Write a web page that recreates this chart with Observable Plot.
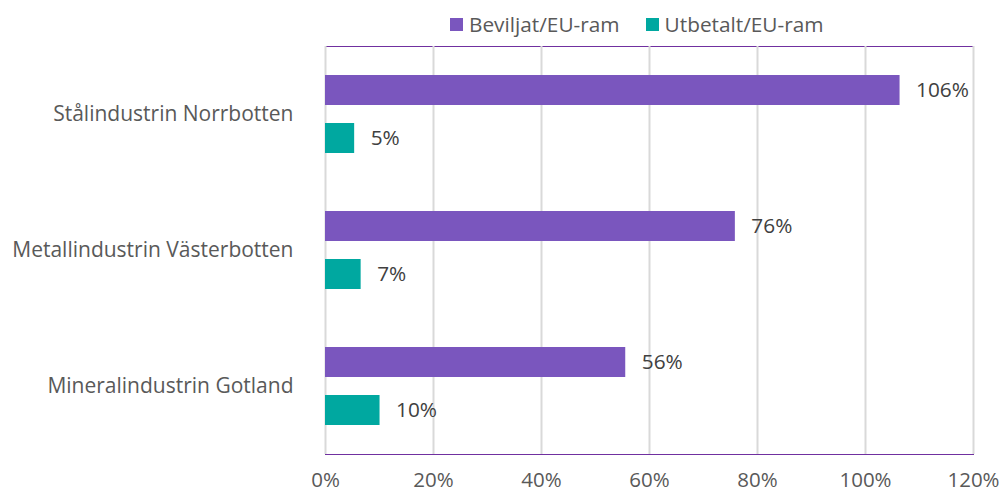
<!DOCTYPE html>
<html><head><meta charset="utf-8">
<script src="https://cdn.jsdelivr.net/npm/d3@7"></script>
<script src="https://cdn.jsdelivr.net/npm/@observablehq/plot@0.6"></script>
<style>
body{margin:0;background:#fff;font-family:"Open Sans", sans-serif;}
#legend{height:42px;display:flex;align-items:center;padding-left:450px;font-size:20.8px;color:#595959;box-sizing:border-box;padding-top:6px}
.item{display:flex;align-items:center;margin-right:26px}
.sw{width:13px;height:13px;margin-right:6px}
</style></head><body>
<div id="legend"></div>
<div id="chart"></div>
<script>
const categories = ["Stålindustrin Norrbotten","Metallindustrin Västerbotten","Mineralindustrin Gotland"];
const series = ["Beviljat/EU-ram","Utbetalt/EU-ram"];
const beviljat = [106.4, 75.9, 55.6];
const utbetalt = [5.4, 6.6, 10.1];
const colors = ["#7A56BE","#00A8A0"];
const xTicks = [0,20,40,60,80,100,120];

const data = categories.flatMap((c,i)=>[
 {category:c, series:series[0], value:beviljat[i]},
 {category:c, series:series[1], value:utbetalt[i]}]);

const legend = document.getElementById("legend");
series.forEach((s,i)=>{
  const it = document.createElement("div"); it.className="item";
  const sw = document.createElement("div"); sw.className="sw"; sw.style.background=colors[i];
  const tx = document.createElement("span"); tx.textContent=s;
  it.appendChild(sw); it.appendChild(tx); legend.appendChild(it);
});

const chart = Plot.plot({
 width:1003, height:450, marginTop:3, marginBottom:38, marginLeft:325, marginRight:30,
 style:{fontFamily:"'Open Sans', sans-serif", fontSize:"20.5px", color:"#595959", background:"#fff"},
 x:{domain:[0,120], label:null},
 y:{domain:series, paddingInner:0.37, paddingOuter:0.6, axis:null, label:null},
 fy:{domain:categories, padding:0, label:null},
 color:{domain:series, range:colors},
 marks:[
  Plot.frame({facet:"super", stroke:"#7030A0", strokeWidth:1}),
  Plot.gridX(xTicks, {stroke:"#D9D9D9", strokeOpacity:1, strokeWidth:2}),
  Plot.barX(data, {fy:"category", y:"series", x:"value", fill:"series"}),
  Plot.text(data, {fy:"category", y:"series", x:"value", text:d=>Math.round(d.value)+"%", textAnchor:"start", dx:16, fill:"#404040", fontSize:20.8}),
  Plot.axisX(xTicks, {tickSize:0, tickPadding:18, tickFormat:d=>d+"%", fontSize:20.5, fill:"#595959", label:null}),
  Plot.axisFy({tickSize:0, tickPadding:32, label:null, anchor:"left", fontSize:21, fill:"#595959"})
 ]
});
document.getElementById("chart").appendChild(chart);
</script>
</body></html>
